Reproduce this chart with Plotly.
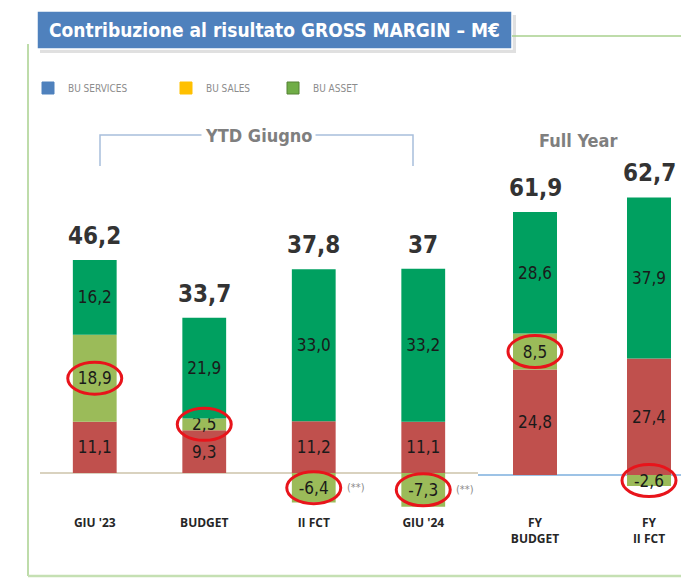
import plotly.graph_objects as go

# ---------------- data ----------------
categories_ytd = ["GIU '23", "BUDGET", "II FCT", "GIU '24"]
categories_fy = ["FY<br>BUDGET", "FY<br>II FCT"]
series_names = ["BU SERVICES", "BU SALES", "BU ASSET"]
services_ytd = [11.1, 9.3, 11.2, 11.1]
sales_ytd = [18.9, 2.5, -6.4, -7.3]
asset_ytd = [16.2, 21.9, 33.0, 33.2]
services_fy = [24.8, 27.4]
sales_fy = [8.5, -2.6]
asset_fy = [28.6, 37.9]
total_labels_ytd = ["46,2", "33,7", "37,8", "37"]
total_labels_fy = ["61,9", "62,7"]
footnotes_ytd = ["", "", "(**)", "(**)"]

# ---------------- styling ----------------
OFF = 8            # page body margin
W, H = 689 - OFF, 583 - OFF
PLOT_BOTTOM = 510 - OFF
B = H - PLOT_BOTTOM
PH = PLOT_BOTTOM
BAR_COLORS = ["#C0504D", "#9BBB59", "#00A060"]
LEGEND_COLORS = ["#4F81BD", "#FFC000", "#70AD47"]
NARROW = "DejaVu Sans Condensed, Liberation Sans Narrow, Arial Narrow, sans-serif"
GEO = "Open Sans, Lato, sans-serif"


def px(x):
    return (x - OFF) / W


def py(y):
    return (PH - (y - OFF)) / PH


fig = go.Figure()

groups = [
    ("x", "y", categories_ytd, [services_ytd, sales_ytd, asset_ytd], total_labels_ytd, 0.40),
    ("x2", "y2", categories_fy, [services_fy, sales_fy, asset_fy], total_labels_fy, 0.386),
]

annotations = []
shapes = []

for xa, ya, cats, series, totals, bw in groups:
    for name, vals, col in zip(series_names, series, BAR_COLORS):
        fig.add_trace(go.Bar(
            x=cats, y=vals, name=name, marker=dict(color=col, line=dict(width=0)),
            width=bw, texttemplate="%{y:.1f}", textposition="inside",
            insidetextanchor="middle", constraintext="none",
            textfont=dict(family=NARROW, size=17, color="#1a1a1a"),
            showlegend=False, xaxis=xa, yaxis=ya, hoverinfo="skip",
        ))
    services, sales, asset = series
    for i, c in enumerate(cats):
        pos_top = sum(v for v in (services[i], sales[i], asset[i]) if v > 0)
        annotations.append(dict(
            x=c, y=pos_top, xref=xa, yref=ya, text=totals[i], showarrow=False,
            xanchor="center", yanchor="bottom", yshift=8,
            font=dict(family=NARROW, size=24, color="#333333", weight="bold"),
        ))
        mid = services[i] + sales[i] / 2 if sales[i] > 0 else sales[i] / 2
        shapes.append(dict(
            type="circle", xref=xa, yref=ya, xsizemode="pixel", ysizemode="pixel",
            xanchor=i, yanchor=mid, x0=-27, x1=27, y0=-16, y1=16,
            line=dict(color="#E8141B", width=3), fillcolor="rgba(0,0,0,0)",
        ))

for i, c in enumerate(categories_ytd):
    if footnotes_ytd[i]:
        annotations.append(dict(
            x=c, y=sales_ytd[i] / 2, xref="x", yref="y", text=footnotes_ytd[i],
            showarrow=False, xshift=42, xanchor="center", yanchor="middle",
            font=dict(family=NARROW, size=11, color="#8C8C8C"),
        ))

# legend entries (legend swatches as in the original slide), one legend box each
legend_x = [48, 186, 293]
for k, (name, col) in enumerate(zip(series_names, LEGEND_COLORS)):
    lg = "legend" if k == 0 else f"legend{k + 1}"
    fig.add_trace(go.Bar(
        x=[categories_ytd[0]], y=[None], name=name,
        marker=dict(color=col, line=dict(color="#548235" if col == "#70AD47" else col, width=1)),
        showlegend=True, xaxis="x", yaxis="y", hoverinfo="skip", legend=lg,
    ))

legend_style = dict(orientation="h", xanchor="left", yanchor="middle",
                    font=dict(family=NARROW, size=10, color="#8C8C8C"),
                    bgcolor="rgba(0,0,0,0)", itemwidth=30)
legends = {}
for k, lx in enumerate(legend_x):
    key = "legend" if k == 0 else f"legend{k + 1}"
    legends[key] = dict(x=px(lx - 20), y=py(88), **legend_style)

# title box
shapes += [
    dict(type="rect", xref="paper", yref="paper", x0=px(40), x1=px(516), y0=py(15), y1=py(53),
         fillcolor="rgba(0,0,0,0.12)", line=dict(width=0), layer="above"),
    dict(type="rect", xref="paper", yref="paper", x0=px(37), x1=px(512), y0=py(11), y1=py(49),
         fillcolor="#4F81BD", line=dict(color="white", width=1.5), layer="above"),
    # frame lines
    dict(type="line", xref="paper", yref="paper", x0=px(28), x1=px(28), y0=py(44), y1=py(576),
         line=dict(color="#A9D08E", width=1.5)),
    dict(type="line", xref="paper", yref="paper", x0=px(512), x1=px(689), y0=py(36), y1=py(36),
         line=dict(color="#A9D08E", width=1.5)),
    dict(type="line", xref="paper", yref="paper", x0=px(28), x1=px(689), y0=py(576), y1=py(576),
         line=dict(color="#C5E0B3", width=2.5)),
    # YTD bracket
    dict(type="path", xref="paper", yref="paper",
         path=f"M{px(100)},{py(166)} L{px(100)},{py(135)} L{px(413)},{py(135)} L{px(413)},{py(166)}",
         line=dict(color="#A8BFDB", width=1.5)),
]

annotations += [
    dict(x=px(274), y=py(30), xref="paper", yref="paper", showarrow=False,
         xanchor="center", yanchor="middle",
         text="Contribuzione al risultato GROSS MARGIN – M€",
         font=dict(family=NARROW, size=19, color="white", weight="bold")),
    dict(x=px(258), y=py(135), xref="paper", yref="paper", showarrow=False,
         xanchor="center", yanchor="middle",
         text="YTD Giugno", bgcolor="white", borderpad=3,
         font=dict(family=NARROW, size=18, color="#7F7F7F", weight="bold")),
    dict(x=px(578), y=py(140), xref="paper", yref="paper", showarrow=False,
         xanchor="center", yanchor="middle",
         text="Full Year",
         font=dict(family=NARROW, size=18, color="#7F7F7F", weight="bold")),
]

axis_common = dict(showgrid=False, showline=False, ticks="", fixedrange=True)
tickfont = dict(family=GEO, size=12, color="#262626", weight="bold")

fig.update_layout(
    width=W, height=H,
    margin=dict(l=0, r=0, t=0, b=B),
    paper_bgcolor="white", plot_bgcolor="rgba(0,0,0,0)",
    barmode="relative", separators=",.",
    uniformtext=dict(minsize=17, mode="show"),
    xaxis=dict(domain=[px(40), px(478)], range=[-0.5, 3.5], type="category",
               tickfont=tickfont, zeroline=False, ticklabelstandoff=4, **axis_common),
    yaxis=dict(domain=[0, 1], range=[-37 / 4.61, (473 - OFF) / 4.61], showticklabels=False,
               zeroline=True, zerolinecolor="#D9D2BF", zerolinewidth=1.5, **axis_common),
    xaxis2=dict(domain=[px(478), 1], range=[-0.5, -0.5 + (689 - 478) / 114], type="category",
                anchor="y2", tickfont=tickfont, zeroline=False, ticklabelstandoff=4, **axis_common),
    yaxis2=dict(domain=[0, 1], range=[-35 / 4.25, (475 - OFF) / 4.25], anchor="x2",
                showticklabels=False,
                zeroline=True, zerolinecolor="#9DC3E6", zerolinewidth=1.5, **axis_common),
    shapes=shapes, annotations=annotations,
    showlegend=True,
    **legends,
)

fig.write_html("out.html")
